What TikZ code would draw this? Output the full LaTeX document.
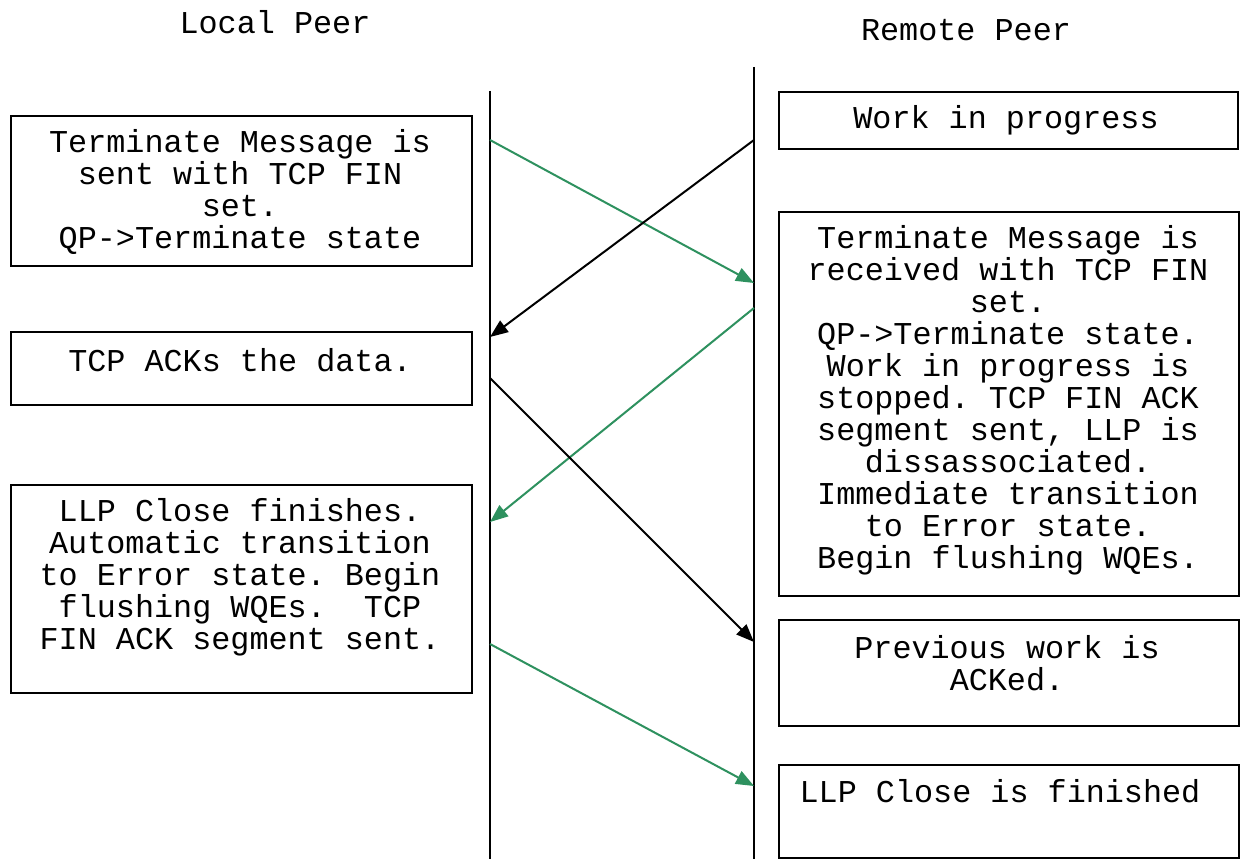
\documentclass[tikz,border=0pt]{standalone}
\usepackage{fontspec}
\setmainfont{Liberation Mono}
\usetikzlibrary{arrows.meta}
\definecolor{arrgreen}{RGB}{46,145,95}
\frenchspacing
\begin{document}
\begin{tikzpicture}[x=1pt,y=-1pt,
  box/.style={draw=black,line width=1.6pt,rectangle,inner sep=0pt,anchor=north west},
  txt/.style={align=center,inner sep=0pt,font=\fontsize{31.8}{32}\selectfont},
  life/.style={line width=1.8pt,draw=black},
  msg/.style={line width=2pt,-{Triangle[length=18pt,width=14pt]}},
  gmsg/.style={msg,draw=arrgreen,color=arrgreen},
  bmsg/.style={msg,draw=black,color=black}]
\useasboundingbox (0,0) rectangle (1240,859);
\fill[white] (0,0) rectangle (1240,859);
% titles
\node[txt] (tl) at (275,22) {Local Peer};
\node[txt] (tr) at (966,30) {Remote Peer};
% lifelines
\coordinate (la) at (490,91);
\coordinate (lb) at (490,859);
\coordinate (ra) at (754,67);
\coordinate (rb) at (754,859);
\draw[life] (la) -- (lb);
\draw[life] (ra) -- (rb);
% boxes left
\node[box,minimum width=461pt,minimum height=150pt] (L1) at (10,115) {};
\node[txt] (L1t) at (240,192) {Terminate Message is\\sent with TCP FIN\\set.\\QP->Terminate state};
\node[box,minimum width=461pt,minimum height=73pt] (L2) at (10,331) {};
\node[txt] (L2t) at (240,360) {TCP ACKs the data.};
\node[box,minimum width=461pt,minimum height=208pt] (L3) at (10,484) {};
\node[txt] (L3t) at (240,577) {LLP Close finishes.\\Automatic transition\\to Error state. Begin\\flushing WQEs.\ \ TCP\\FIN ACK segment sent.};
% boxes right
\node[box,minimum width=459pt,minimum height=57pt] (R1) at (778,91) {};
\node[txt] (R1t) at (1006,120) {Work in progress};
\node[box,minimum width=460pt,minimum height=384pt] (R2) at (778,211) {};
\node[txt] (R2t) at (1008,400) {Terminate Message is\\received with TCP FIN\\set.\\QP->Terminate state.\\Work in progress is\\stopped. TCP FIN ACK\\segment sent, LLP is\\dissassociated.\\Immediate transition\\to Error state.\\Begin flushing WQEs.};
\node[box,minimum width=460pt,minimum height=106pt] (R3) at (778,619) {};
\node[txt] (R3t) at (1007,663) {Previous work is\\ACKed.};
\node[box,minimum width=460pt,minimum height=93pt] (R4) at (778,764) {};
\node[txt] (R4t) at (1000,791) {LLP Close is finished};
% message endpoints
\coordinate (g1s) at (490,140); \coordinate (g1e) at (754,283);
\coordinate (b1s) at (754,140); \coordinate (b1e) at (490,337);
\coordinate (g2s) at (754,308); \coordinate (g2e) at (490,522);
\coordinate (b2s) at (490,378); \coordinate (b2e) at (754,642);
\coordinate (g3s) at (490,644); \coordinate (g3e) at (754,786);
\draw[gmsg] (g1s) -- (g1e);
\draw[bmsg] (b1s) -- (b1e);
\draw[gmsg] (g2s) -- (g2e);
\draw[bmsg] (b2s) -- (b2e);
\draw[gmsg] (g3s) -- (g3e);
\end{tikzpicture}
\end{document}
